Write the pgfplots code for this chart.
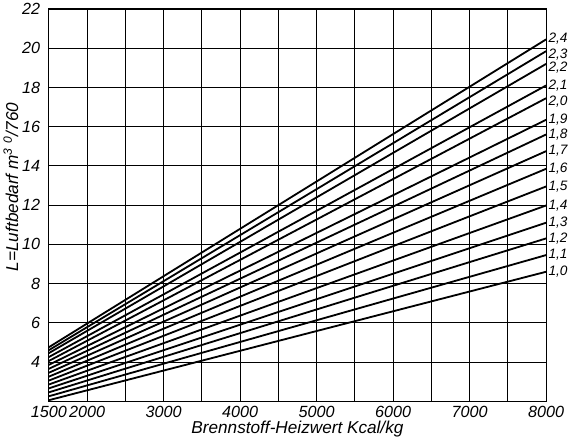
\documentclass[border=0pt]{standalone}
\usepackage{fontspec}
\setmainfont{Liberation Sans}
\usepackage{pgfplots}
\pgfplotsset{compat=1.18}
\tikzset{
  line label/.style={anchor=west, inner sep=1.5pt, font=\fontsize{13.5}{15}\selectfont\itshape},
  curve/.style={black, solid, line width=1.8pt},
}

\begin{document}
\begin{tikzpicture}
\begin{axis}[
  scale only axis,
  width=492pt, height=388pt,
  xmin=1500, xmax=8000, ymin=2, ymax=22,
  xtick={1500,2000,2500,...,8000},
  xticklabels={1500,2000,,3000,,4000,,5000,,6000,,7000,,8000},
  ytick={2,4,...,22},
  yticklabels={,4,6,8,10,12,14,16,18,20,22},
  major tick length=0pt,
  grid=major,
  major grid style={black, line width=0.8pt},
  axis line style={black, line width=1.1pt},
  tick label style={font=\fontsize{16}{18}\selectfont\itshape},
  yticklabel style={xshift=-5pt},
  xticklabel style={yshift=-1pt},
  label style={font=\fontsize{17}{19}\selectfont\itshape},
  xlabel={Brennstoff-Heizwert Kcal/kg},
  ylabel={L=Luftbedarf m\textsuperscript{3} \textsuperscript{0}/760},
  xlabel style={yshift=3pt},
  ylabel style={yshift=-3pt, xshift=18pt},
  clip=false,
]
% air demand lines for excess-air factors 1,0 ... 2,4
\addplot[curve] coordinates {(1500,2.05) (8000,8.60)} node[line label, pos=1] {1,0};
\addplot[curve] coordinates {(1500,2.25) (8000,9.45)} node[line label, pos=1] {1,1};
\addplot[curve] coordinates {(1500,2.45) (8000,10.30)} node[line label, pos=1] {1,2};
\addplot[curve] coordinates {(1500,2.65) (8000,11.10)} node[line label, pos=1] {1,3};
\addplot[curve] coordinates {(1500,2.85) (8000,11.98)} node[line label, pos=1] {1,4};
\addplot[curve] coordinates {(1500,3.05) (8000,12.95)} node[line label, pos=1] {1,5};
\addplot[curve] coordinates {(1500,3.25) (8000,13.85)} node[line label, pos=1] {1,6};
\addplot[curve] coordinates {(1500,3.45) (8000,14.75)} node[line label, pos=1] {1,7};
\addplot[curve] coordinates {(1500,3.65) (8000,15.60)} node[line label, pos=1] {1,8};
\addplot[curve] coordinates {(1500,3.85) (8000,16.35)} node[line label, pos=1] {1,9};
\addplot[curve] coordinates {(1500,4.05) (8000,17.45)} node[line label, pos=1, yshift=-3pt] {2,0};
\addplot[curve] coordinates {(1500,4.25) (8000,18.10)} node[line label, pos=1] {2,1};
\addplot[curve] coordinates {(1500,4.45) (8000,19.20)} node[line label, pos=1, yshift=-4pt] {2,2};
\addplot[curve] coordinates {(1500,4.60) (8000,19.85)} node[line label, pos=1, yshift=-3pt] {2,3};
\addplot[curve] coordinates {(1500,4.75) (8000,20.45)} node[line label, pos=1, yshift=1pt] {2,4};
\end{axis}
\end{tikzpicture}
\end{document}
